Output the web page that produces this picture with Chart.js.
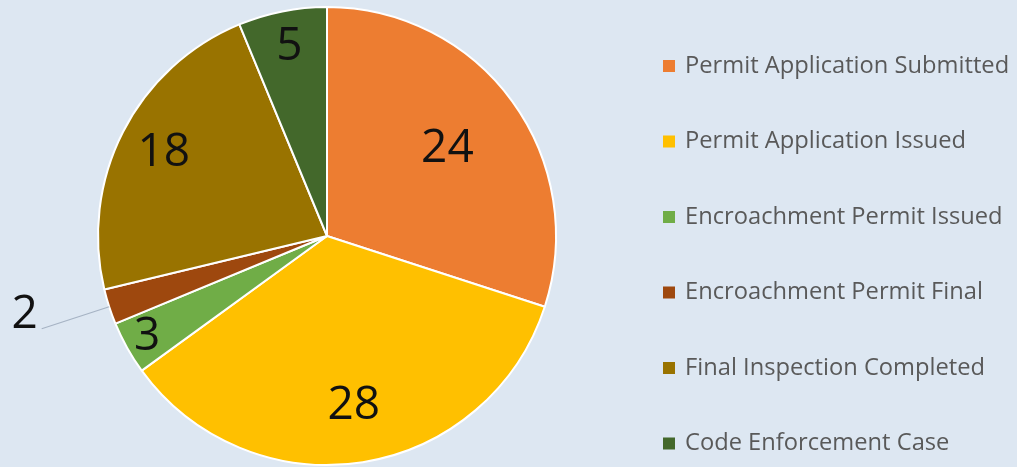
<!DOCTYPE html>
<html>
<head>
<meta charset="utf-8">
<script src="https://cdn.jsdelivr.net/npm/chart.js@4"></script>
<style>
  body { margin: 0; background: #dde7f2; }
  #wrap { width: 1017px; height: 467px; position: relative; }
</style>
</head>
<body>
<div id="wrap"><canvas id="pieChart"></canvas></div>
<script>
// chart values
const categories = [
  'Permit Application Submitted',
  'Permit Application Issued',
  'Encroachment Permit Issued',
  'Encroachment Permit Final',
  'Final Inspection Completed',
  'Code Enforcement Case'
];
const counts = [24, 28, 3, 2, 18, 5];
const sliceColors = ['#ed7d31', '#ffc000', '#70ad47', '#9e480e', '#997300', '#43682b'];

// where each number sits, as a share of the radius (Excel "best fit" look)
const labelRadius = [0.65, 0.75, 0.9, 1.31, 0.8, 0.84];
const outsideLabel = [false, false, false, true, false, false];

const sliceLabels = {
  id: 'sliceLabels',
  afterDatasetsDraw(chart) {
    let ctx = chart.ctx;
    let arcs = chart.getDatasetMeta(0).data;
    ctx.save();
    ctx.font = '46px "Open Sans"';
    ctx.fillStyle = '#111';
    for (let i = 0; i < arcs.length; i++) {
      let a = arcs[i];
      let mid = (a.startAngle + a.endAngle) / 2;
      let cos = Math.cos(mid), sin = Math.sin(mid);
      let r = a.outerRadius * labelRadius[i];
      let x = a.x + cos * r;
      let y = a.y + sin * r;
      if (outsideLabel[i]) {
        ctx.strokeStyle = '#a6b3c4';
        ctx.lineWidth = 1.2;
        ctx.beginPath();
        ctx.moveTo(a.x + cos * a.outerRadius, a.y + sin * a.outerRadius);
        ctx.lineTo(x, y);
        ctx.stroke();
        ctx.textAlign = 'right';
        ctx.textBaseline = 'middle';
        ctx.fillText(counts[i], x - 4, y - 14);
      } else {
        ctx.textAlign = 'center';
        ctx.textBaseline = 'middle';
        ctx.fillText(counts[i], x, y);
      }
    }
    ctx.restore();
  }
};

const sideLegend = {
  id: 'sideLegend',
  afterDraw(chart) {
    let ctx = chart.ctx;
    ctx.save();
    ctx.font = '23.7px "Open Sans"';
    ctx.textBaseline = 'middle';
    ctx.textAlign = 'left';
    for (let i = 0; i < categories.length; i++) {
      let y = 66 + i * 75.5;
      ctx.fillStyle = sliceColors[i];
      ctx.fillRect(663, y - 6, 12, 12);
      ctx.fillStyle = '#595959';
      ctx.fillText(categories[i], 685, y);
    }
    ctx.restore();
  }
};

const config = {
  type: 'pie',
  data: {
    labels: categories,
    datasets: [{
      data: counts,
      backgroundColor: sliceColors,
      borderColor: '#ffffff',
      borderWidth: 2
    }]
  },
  options: {
    responsive: true,
    maintainAspectRatio: false,
    animation: false,
    layout: { padding: { left: 0, right: 363, top: 6, bottom: 1 } },
    plugins: {
      legend: { display: false },
      tooltip: { enabled: false }
    }
  },
  plugins: [sliceLabels, sideLegend]
};

let canvasChart = document.getElementById('pieChart');
const myChart = new Chart(canvasChart, config);
</script>
</body>
</html>
